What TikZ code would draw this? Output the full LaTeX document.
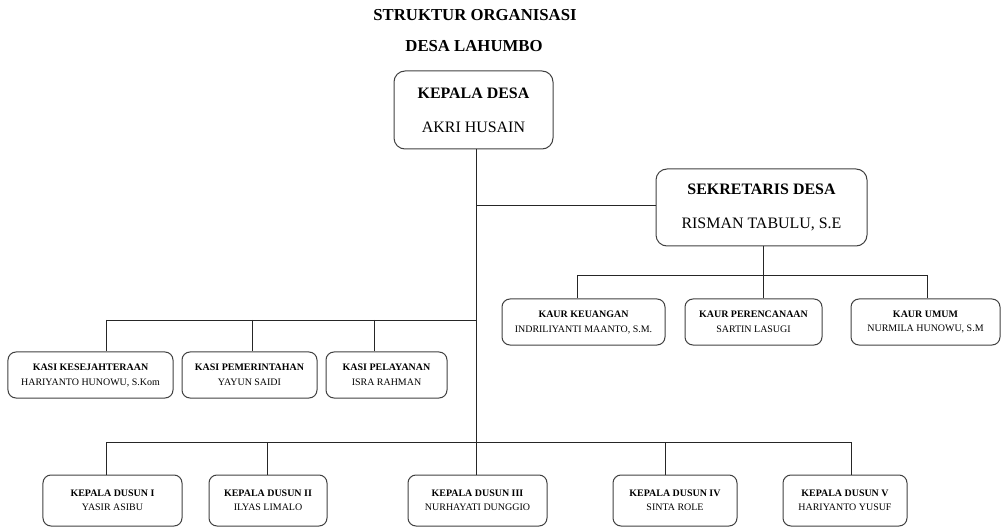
\documentclass[tikz,border=0pt]{standalone}
\usepackage{fontspec}
\setmainfont{Liberation Serif}
\begin{document}
\begin{tikzpicture}[x=1bp,y=-1bp,
  bigbox/.style={draw=black!75, line width=1bp, rounded corners=11bp, align=center, inner sep=0pt,
     font=\fontsize{16}{34}\selectfont},
  smallbox/.style={draw=black!75, line width=1bp, rounded corners=8bp, align=center, inner sep=0pt,
     font=\fontsize{10}{15}\selectfont, minimum height=46bp},
  dusunbox/.style={smallbox, minimum height=51bp, font=\fontsize{10}{14}\selectfont},
  link/.style={draw=black!85, line width=0.9bp},
  titletext/.style={font=\fontsize{16.8}{18}\selectfont\bfseries, anchor=base, inner sep=0pt}]
\useasboundingbox (0,0) rectangle (1002,528);

% titles
\node[titletext] (t1) at (475,20.5) {STRUKTUR ORGANISASI};
\node[titletext] (t2) at (474,52) {DESA LAHUMBO};

% main boxes
\node[bigbox, minimum width=159bp, minimum height=78bp] (kd) at (473.5,110) {\textbf{KEPALA DESA}\\AKRI HUSAIN};
\node[bigbox, minimum width=211bp, minimum height=77bp] (sd) at (761.5,207.5) {\textbf{SEKRETARIS DESA}\\RISMAN TABULU, S.E};

% kaur
\node[smallbox, minimum width=163bp] (kaur1) at (583.5,322) {\textbf{KAUR KEUANGAN}\\INDRILIYANTI MAANTO, S.M.};
\node[smallbox, minimum width=137bp] (kaur2) at (753.5,322) {\textbf{KAUR PERENCANAAN}\\SARTIN LASUGI};
\node[smallbox, minimum width=149bp] (kaur3) at (925.5,322) {\textbf{KAUR UMUM}\\NURMILA HUNOWU, S.M};

% kasi
\node[smallbox, minimum width=165bp] (kasi1) at (90.5,375) {\textbf{KASI KESEJAHTERAAN}\\HARIYANTO HUNOWU, S.Kom};
\node[smallbox, minimum width=135bp] (kasi2) at (249.5,375) {\textbf{KASI PEMERINTAHAN}\\YAYUN SAIDI};
\node[smallbox, minimum width=121bp] (kasi3) at (386.5,375) {\textbf{KASI PELAYANAN}\\ISRA RAHMAN};

% dusun
\node[dusunbox, minimum width=139bp] (d1) at (112.5,500.5) {\textbf{KEPALA DUSUN I}\\YASIR ASIBU};
\node[dusunbox, minimum width=118bp] (d2) at (268,500.5) {\textbf{KEPALA DUSUN II}\\ILYAS LIMALO};
\node[dusunbox, minimum width=139bp] (d3) at (477.5,500.5) {\textbf{KEPALA DUSUN III}\\NURHAYATI DUNGGIO};
\node[dusunbox, minimum width=124bp] (d4) at (675,500.5) {\textbf{KEPALA DUSUN IV}\\SINTA ROLE};
\node[dusunbox, minimum width=124bp] (d5) at (845,500.5) {\textbf{KEPALA DUSUN V}\\HARIYANTO YUSUF};

% junction coordinates
\coordinate (top) at (476,149);
\coordinate (jsd) at (476,205);
\coordinate (jkasi) at (476,320);
\coordinate (jdus) at (476,442);
\coordinate (kasiL) at (106,320);
\coordinate (kasiM) at (252,320);
\coordinate (kasiR) at (374,320);
\coordinate (dusL) at (106,442);
\coordinate (dus2) at (267,442);
\coordinate (dus4) at (665,442);
\coordinate (dusR) at (851,442);
\coordinate (sdb) at (763,246);
\coordinate (kaurM) at (763,275);
\coordinate (kaurL) at (577,275);
\coordinate (kaurR) at (927,275);

% trunk
\draw[link] (top) -- (jdus);
\draw[link] (jsd) -- (jsd -| sd.west);
% kasi
\draw[link] (kasiL) -- (jkasi);
\draw[link] (kasiL) -- (kasiL |- kasi1.north);
\draw[link] (kasiM) -- (kasiM |- kasi2.north);
\draw[link] (kasiR) -- (kasiR |- kasi3.north);
% dusun
\draw[link] (dusL) -- (dusR);
\draw[link] (dusL) -- (dusL |- d1.north);
\draw[link] (dus2) -- (dus2 |- d2.north);
\draw[link] (jdus) -- (jdus |- d3.north);
\draw[link] (dus4) -- (dus4 |- d4.north);
\draw[link] (dusR) -- (dusR |- d5.north);
% kaur
\draw[link] (sdb) -- (kaurM);
\draw[link] (kaurL) -- (kaurR);
\draw[link] (kaurL) -- (kaurL |- kaur1.north);
\draw[link] (kaurM) -- (kaurM |- kaur2.north);
\draw[link] (kaurR) -- (kaurR |- kaur3.north);
\end{tikzpicture}
\end{document}
